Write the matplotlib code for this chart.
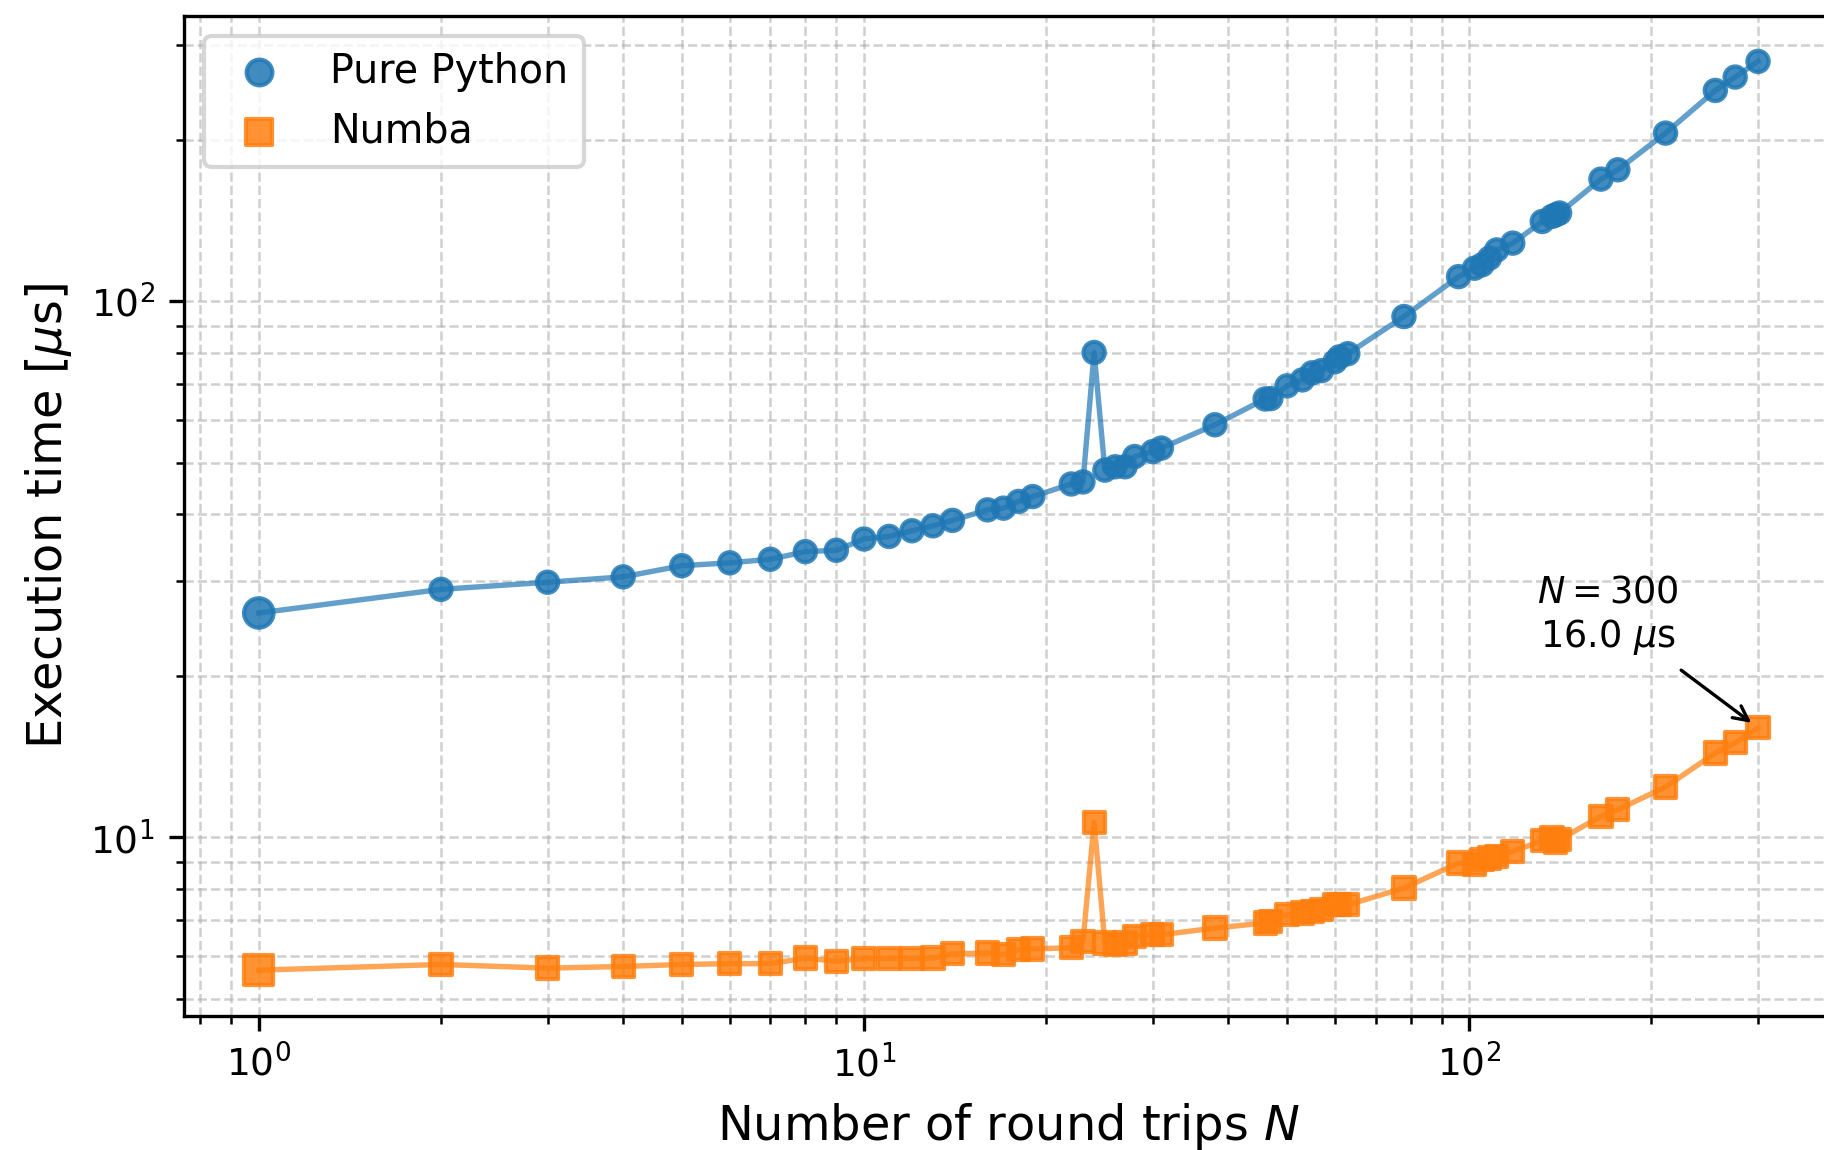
import numpy as np
import matplotlib
matplotlib.use("Agg")
import matplotlib.pyplot as plt

# Number of round trips
rounds = [1, 2, 3, 4, 5, 6, 7, 8, 9, 10, 11, 12, 13, 14, 16, 17, 18, 19,
          22, 23, 24, 25, 26, 27, 28, 30, 31, 38, 46, 47, 50, 53, 55, 57,
          60, 61, 63, 78, 96, 102, 105, 108, 111, 118, 132, 137, 139, 141,
          165, 176, 211, 255, 275, 300]

# Execution time in microseconds
pure_python = [26.2, 29.0, 29.9, 30.6, 32.1, 32.5, 33.0, 34.1, 34.3, 36.0,
               36.4, 37.3, 38.1, 39.0, 40.8, 41.1, 42.3, 43.2,
               45.6, 46.0, 80.2, 48.4, 49.1, 49.1, 51.3, 52.4, 53.2, 58.8,
               65.7, 65.8, 69.5, 71.3, 73.5, 74.2,
               77.1, 78.7, 79.8, 93.6, 111.1, 115.2, 116.9, 120.3, 124.6,
               128.3, 140.8, 143.9, 144.9, 146.0,
               168.9, 175.8, 205.8, 247.2, 261.8, 280.0]

numba = [5.65, 5.79, 5.70, 5.74, 5.79, 5.81, 5.81, 5.95, 5.87, 5.94,
         5.94, 5.94, 5.95, 6.06, 6.08, 6.04, 6.17, 6.19,
         6.22, 6.39, 10.66, 6.35, 6.30, 6.35, 6.53, 6.58, 6.58, 6.77,
         6.92, 6.97, 7.17, 7.22, 7.28, 7.33,
         7.48, 7.50, 7.48, 8.04, 8.95, 8.89, 9.08, 9.15, 9.21,
         9.41, 9.85, 10.0, 9.8, 9.9,
         10.94, 11.26, 12.41, 14.36, 15.0, 16.0]

blue = "#1f77b4"
orange = "#ff7f0e"

# marker areas (pt^2): the first measurement is emphasised
marker_area = np.full(len(rounds), 26.0)
marker_area[0] = 50.0

fig = plt.figure(figsize=(1824 / 300, 1150 / 300), dpi=300)
ax = fig.add_axes([0.10077, 0.11687, 0.90417, 0.86922])
ax.set_xscale("log")
ax.set_yscale("log")

ax.plot(rounds, pure_python, color=blue, alpha=0.7, lw=1.3, zorder=2)
ax.scatter(rounds, pure_python, s=marker_area, color=blue, alpha=0.85,
           linewidths=1.0, marker="o", label="Pure Python", zorder=3)

ax.plot(rounds, numba, color=orange, alpha=0.7, lw=1.3, zorder=2)
ax.scatter(rounds, numba, s=marker_area, color=orange, alpha=0.85,
           linewidths=1.0, marker="s", label="Numba", zorder=3)

ax.annotate(f"$N = {rounds[-1]}$\n{numba[-1]:.1f} $\\mu$s",
            xy=(rounds[-1], numba[-1]), xytext=(-36, 27),
            textcoords="offset points", ha="center", va="center",
            fontsize=8.8,
            arrowprops=dict(arrowstyle="->", color="black", lw=0.8))

ax.grid(True, which="both", linestyle="--", linewidth=0.6,
        color="#b0b0b0", alpha=0.6)
ax.set_axisbelow(True)

ax.set_xlabel("Number of round trips $N$", fontsize=11.5)
ax.set_ylabel("Execution time [$\\mu$s]", fontsize=11.5)
ax.tick_params(axis="both", which="major", labelsize=9)

ax.legend(loc="upper left", fontsize=9.5)

fig.savefig("out.png", dpi=300)
